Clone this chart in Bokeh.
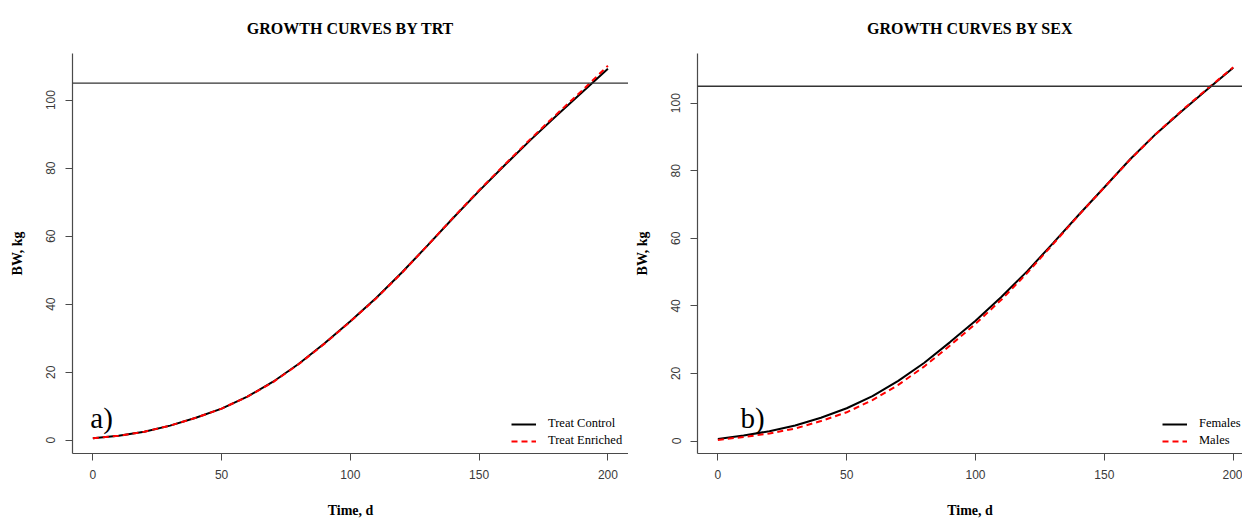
from bokeh.plotting import figure
from bokeh.models import Span, Label, Legend, LegendItem, FixedTicker, Range1d
from bokeh.layouts import row
from bokeh.embed import file_html
from bokeh.resources import INLINE

# ---- data ----
days = [0, 10, 20, 30, 40, 50, 60, 70, 80, 90, 100,
        110, 120, 130, 140, 150, 160, 170, 180, 190, 200]
treat_control = [0.6, 1.3, 2.5, 4.3, 6.6, 9.3, 12.8, 17.2, 22.5, 28.5, 35.0,
                 41.8, 49.3, 57.3, 65.4, 73.3, 80.9, 88.3, 95.4, 102.3, 109.2]
treat_enriched = [0.6, 1.3, 2.5, 4.3, 6.6, 9.3, 12.8, 17.1, 22.4, 28.4, 34.9,
                  41.7, 49.2, 57.3, 65.5, 73.5, 81.1, 88.6, 95.8, 102.8, 110.1]
females = [0.6, 1.6, 2.9, 4.6, 6.9, 9.7, 13.3, 17.8, 23.1, 29.2, 35.6,
           42.6, 50.2, 58.5, 66.9, 75.1, 83.4, 90.9, 97.6, 104.1, 110.5]
males = [0.3, 1.2, 2.2, 3.7, 5.9, 8.5, 12.1, 16.6, 22.0, 28.2, 34.7,
         41.8, 49.7, 58.2, 66.8, 75.1, 83.3, 90.9, 97.8, 104.3, 110.6]
x_ticks = [0, 50, 100, 150, 200]
y_ticks = [0, 20, 40, 60, 80, 100]
reference_bw = 105

SERIF = "Liberation Serif"
SANS = "Liberation Sans"


def make_panel(title, tag, names, series, width, border_left, x_end, y_range,
               legend_x, tag_x):
    p = figure(width=width, height=520, output_backend="svg", toolbar_location=None,
               x_range=Range1d(-7.9, x_end), y_range=Range1d(*y_range),
               min_border_left=border_left, min_border_right=0,
               min_border_top=53, min_border_bottom=64, title=title)
    p.title.align = "center"
    p.title.text_font = SERIF
    p.title.text_font_style = "bold"
    p.title.text_font_size = "16px"
    p.title.text_color = "black"
    p.title.standoff = 34
    p.outline_line_color = None
    p.xgrid.visible = False
    p.ygrid.visible = False
    for ax in (p.xaxis[0], p.yaxis[0]):
        ax.axis_line_color = "#4a4a4a"
        ax.axis_line_width = 1.2
        ax.major_tick_line_color = "#4a4a4a"
        ax.major_tick_out = 7
        ax.major_tick_in = 0
        ax.minor_tick_line_color = None
        ax.major_label_text_font = SANS
        ax.major_label_text_font_size = "12px"
        ax.major_label_text_color = "#3a3a3a"
        ax.axis_label_text_font = SERIF
        ax.axis_label_text_font_style = "bold"
        ax.axis_label_text_font_size = "14px"
        ax.axis_label_text_color = "black"
    p.xaxis.ticker = FixedTicker(ticks=x_ticks)
    p.yaxis.ticker = FixedTicker(ticks=y_ticks)
    p.xaxis.major_label_standoff = 9
    p.yaxis.major_label_standoff = 10
    p.yaxis.major_label_orientation = "vertical"
    p.yaxis.axis_label = "BW, kg"
    p.yaxis.axis_label_standoff = 19
    p.xaxis.axis_label = "Time, d"
    p.xaxis.axis_label_standoff = 21

    r1 = p.line(days, series[0], line_color="black", line_width=2)
    r2 = p.line(days, series[1], line_color="#ff0000", line_width=2, line_dash="6 4")

    p.add_layout(Span(location=reference_bw, dimension="width",
                      line_color="#333333", line_width=1.3))

    ymin, ymax = y_range
    ppu = 403.0 / (ymax - ymin)
    p.add_layout(Label(x=tag_x, y=ymin + 36 / ppu, text=tag, text_align="left",
                       text_baseline="alphabetic", text_font=SERIF,
                       text_font_size="29px", text_color="black"))

    legend = Legend(items=[LegendItem(label=names[0], renderers=[r1]),
                           LegendItem(label=names[1], renderers=[r2])],
                    location=(legend_x, 5), padding=0, margin=0,
                    spacing=2, glyph_width=25, glyph_height=14, label_height=14,
                    label_standoff=12, label_text_font=SERIF,
                    label_text_font_size="12.5px", label_text_color="black",
                    border_line_color=None, background_fill_alpha=0)
    p.add_layout(legend)
    return p


p1 = make_panel("GROWTH CURVES BY TRT", "a)", ["Treat Control", "Treat Enriched"],
                [treat_control, treat_enriched], 628, 72, 208.0, (-3.9, 113.7),
                439, -1.0)
p2 = make_panel("GROWTH CURVES BY SEX", "b)", ["Females", "Males"],
                [females, males], 614, 69, 203.6, (-3.7, 114.7),
                465, 8.8)

layout = row(p1, p2)
open("out.html", "w").write(file_html(layout, INLINE))
